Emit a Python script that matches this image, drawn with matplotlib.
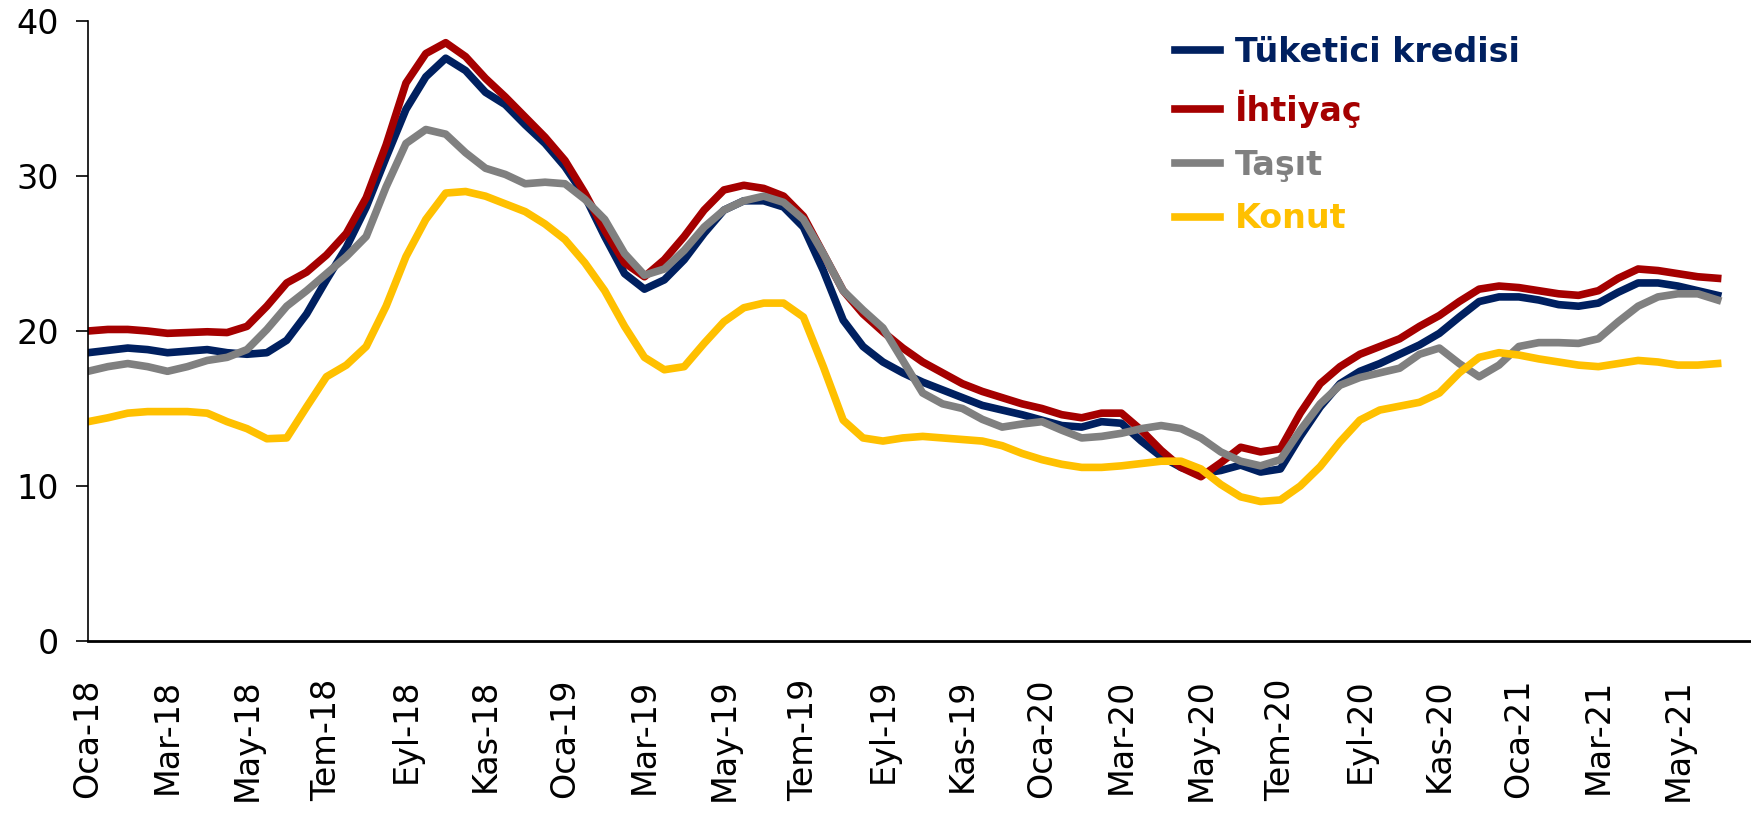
import numpy as np
import matplotlib
matplotlib.use('Agg')
from matplotlib import pyplot as plt

# half-month steps starting Oca-18
months = ['Oca-18', 'Mar-18', 'May-18', 'Tem-18', 'Eyl-18', 'Kas-18',
          'Oca-19', 'Mar-19', 'May-19', 'Tem-19', 'Eyl-19', 'Kas-19',
          'Oca-20', 'Mar-20', 'May-20', 'Tem-20', 'Eyl-20', 'Kas-20',
          'Oca-21', 'Mar-21', 'May-21']

tuketici = [18.6, 18.75, 18.9, 18.8, 18.6, 18.7, 18.8, 18.6, 18.5, 18.6,
            19.4, 21.1, 23.3, 25.4, 28.0, 31.2, 34.3, 36.4, 37.6, 36.8,
            35.4, 34.6, 33.3, 32.1, 30.6, 28.7, 26.1, 23.7, 22.7, 23.3,
            24.6, 26.3, 27.8, 28.4, 28.4, 28.0, 26.7, 23.9, 20.7, 19.0,
            18.0, 17.3, 16.7, 16.2, 15.7, 15.2, 14.9, 14.6, 14.25, 13.9,
            13.8, 14.15, 14.05, 12.9, 11.9, 11.2, 10.8, 11.0, 11.35, 10.9,
            11.1, 13.2, 15.1, 16.6, 17.4, 17.9, 18.5, 19.1, 19.85, 20.9,
            21.9, 22.2, 22.2, 22.0, 21.7, 21.6, 21.8, 22.5, 23.1, 23.1,
            22.9, 22.6, 22.3]

ihtiyac = [20.0, 20.1, 20.1, 20.0, 19.85, 19.9, 19.95, 19.9, 20.3, 21.6,
           23.1, 23.8, 24.9, 26.3, 28.6, 32.0, 36.0, 37.9, 38.6, 37.7,
           36.3, 35.1, 33.8, 32.5, 31.0, 28.9, 26.5, 24.4, 23.5, 24.6,
           26.1, 27.8, 29.1, 29.4, 29.2, 28.7, 27.4, 25.0, 22.6, 21.1,
           19.95, 18.9, 18.0, 17.3, 16.6, 16.1, 15.7, 15.3, 15.0, 14.6,
           14.4, 14.7, 14.7, 13.6, 12.3, 11.2, 10.6, 11.5, 12.5, 12.2,
           12.4, 14.7, 16.6, 17.7, 18.5, 19.0, 19.5, 20.3, 21.0, 21.9,
           22.7, 22.9, 22.8, 22.6, 22.4, 22.3, 22.6, 23.4, 24.0, 23.9,
           23.7, 23.5, 23.4]

tasit = [17.4, 17.7, 17.9, 17.7, 17.4, 17.7, 18.1, 18.3, 18.8, 20.1,
         21.6, 22.6, 23.7, 24.8, 26.1, 29.3, 32.1, 33.0, 32.7, 31.5,
         30.5, 30.1, 29.5, 29.6, 29.5, 28.5, 27.2, 25.0, 23.6, 24.0,
         25.2, 26.7, 27.8, 28.4, 28.7, 28.3, 27.2, 25.0, 22.6, 21.35,
         20.2, 18.1, 16.0, 15.3, 15.0, 14.3, 13.8, 14.0, 14.15, 13.6,
         13.1, 13.2, 13.4, 13.7, 13.9, 13.7, 13.1, 12.2, 11.6, 11.3,
         11.7, 13.6, 15.3, 16.5, 17.0, 17.3, 17.6, 18.5, 18.9, 17.9,
         17.05, 17.8, 19.0, 19.25, 19.25, 19.2, 19.5, 20.6, 21.6, 22.2,
         22.4, 22.4, 22.0]

konut = [14.15, 14.4, 14.7, 14.8, 14.8, 14.8, 14.7, 14.15, 13.7, 13.05,
         13.1, 15.1, 17.05, 17.8, 19.0, 21.6, 24.8, 27.2, 28.9, 29.0,
         28.7, 28.2, 27.7, 26.9, 25.9, 24.4, 22.6, 20.3, 18.3, 17.5,
         17.7, 19.2, 20.6, 21.5, 21.8, 21.8, 20.9, 17.7, 14.25, 13.1,
         12.9, 13.1, 13.2, 13.1, 13.0, 12.9, 12.6, 12.1, 11.7, 11.4,
         11.2, 11.2, 11.3, 11.45, 11.6, 11.6, 11.1, 10.1, 9.3, 9.0,
         9.1, 10.0, 11.25, 12.85, 14.25, 14.9, 15.15, 15.4, 16.0, 17.3,
         18.3, 18.6, 18.45, 18.2, 18.0, 17.8, 17.7, 17.9, 18.1, 18.0,
         17.8, 17.8, 17.9]

x = np.arange(len(tuketici)) * 0.5

fig = plt.figure(figsize=(17.51, 8.16), dpi=100)
ax = fig.add_axes([88 / 1751, 175 / 816, 1 - 88 / 1751, 620 / 816])

ax.plot(x, tuketici, color='#002060', lw=5.5, label='Tüketici kredisi', solid_joinstyle='round')
ax.plot(x, ihtiyac, color='#A50000', lw=5.5, label='İhtiyaç', solid_joinstyle='round')
ax.plot(x, tasit, color='#808080', lw=5.5, label='Taşıt', solid_joinstyle='round')
ax.plot(x, konut, color='#FFC000', lw=5.5, label='Konut', solid_joinstyle='round')

ax.set_xlim(0, 41.84)
ax.set_ylim(0, 40)
ax.set_yticks([0, 10, 20, 30, 40])
ax.tick_params(axis='y', labelsize=24, length=9, width=1.2, pad=12)
ax.set_xticks(np.arange(0, 41, 2))
ax.set_xticklabels(months, rotation=90, fontsize=24)
ax.tick_params(axis='x', length=0, pad=27)

for s in ['top', 'right']:
    ax.spines[s].set_visible(False)
ax.spines['left'].set_linewidth(1.2)
ax.spines['bottom'].set_linewidth(2)

leg = ax.legend(loc='upper left', bbox_to_anchor=(1175 / 1751, 1 - 36 / 816),
                bbox_transform=fig.transFigure, frameon=False, borderpad=0,
                borderaxespad=0, handlelength=1.35, handletextpad=0.45,
                labelspacing=0.62, labelcolor='linecolor',
                prop={'size': 24, 'weight': 'bold'})

plt.savefig('out.png', dpi=100)
